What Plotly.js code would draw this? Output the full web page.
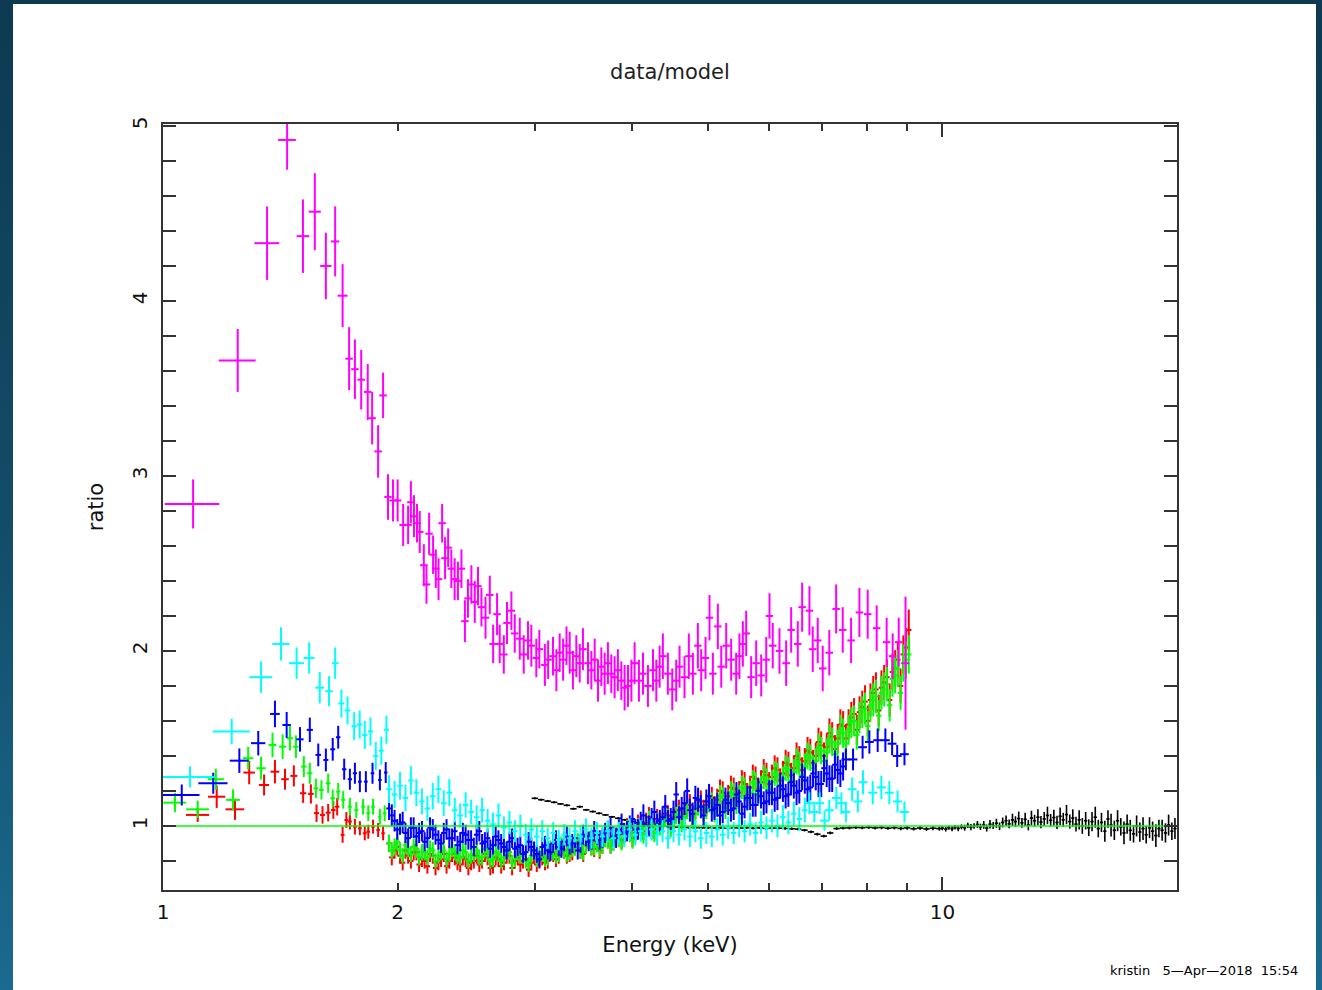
<!DOCTYPE html>
<html><head><meta charset="utf-8">
<script src="https://cdn.plot.ly/plotly-3.0.1.min.js"></script>
<style>
html,body{margin:0;padding:0;width:1322px;height:990px;overflow:hidden;background:linear-gradient(to bottom,#0d3a51 0%,#134d6a 55%,#1b6a91 100%);}
#panel{position:absolute;left:13px;top:4px;width:1303px;height:986px;background:#fff;}
#chart{width:1303px;height:986px;}
</style></head><body><div id="panel"><div id="chart"></div></div>
<script>
// ---------- axis ticks ----------
const xTickVals = [1, 2, 5, 10];
const xTickText = ['1', '2', '5', '10'];
const xMinorVals = [3, 4, 6, 7, 8, 9, 20];
const xMajorLong = [1, 10];

// ---------- model line ----------
const modelE = [1, 20];
const modelR = [1, 1];

// ---------- energy grids (keV) for dense red/green/blue/cyan bins ----------
const eDense = [1.950, 1.982, 2.014, 2.047, 2.080, 2.114, 2.149, 2.184, 2.219, 2.256,
  2.292, 2.330, 2.368, 2.406, 2.445, 2.485, 2.526, 2.567, 2.609, 2.651,
  2.694, 2.738, 2.783, 2.828, 2.874, 2.921, 2.969, 3.017, 3.066, 3.116,
  3.167, 3.219, 3.271, 3.324, 3.378, 3.433, 3.489, 3.546, 3.604, 3.663,
  3.722, 3.783, 3.845, 3.907, 3.971, 4.036, 4.101, 4.168, 4.236, 4.305,
  4.375, 4.446, 4.519, 4.592, 4.667, 4.743, 4.820, 4.899, 4.979, 5.060,
  5.142, 5.226, 5.311, 5.398, 5.486, 5.575, 5.666, 5.758, 5.852, 5.947,
  6.044, 6.143, 6.243, 6.345, 6.448, 6.553, 6.660, 6.769, 6.879, 6.991,
  7.105, 7.221, 7.339, 7.458, 7.580, 7.703, 7.829, 7.957, 8.086, 8.218,
  8.352, 8.488, 8.627, 8.767, 8.910, 9.055];
const eDenseB = [1.966, 1.998, 2.030, 2.063, 2.097, 2.131, 2.166, 2.201, 2.237, 2.274,
  2.311, 2.349, 2.387, 2.425, 2.465, 2.505, 2.546, 2.588, 2.630, 2.672,
  2.716, 2.760, 2.805, 2.851, 2.897, 2.945, 2.993, 3.041, 3.091, 3.141,
  3.193, 3.245, 3.297, 3.351, 3.405, 3.461, 3.517, 3.575, 3.633, 3.692,
  3.752, 3.814, 3.876, 3.939, 4.003, 4.068, 4.134, 4.202, 4.270, 4.340,
  4.410, 4.482, 4.555, 4.629, 4.705, 4.781, 4.859, 4.939, 5.019, 5.101,
  5.184, 5.268, 5.354, 5.442, 5.530, 5.620, 5.712, 5.805, 5.899, 5.995,
  6.093, 6.193, 6.294, 6.396, 6.500, 6.606, 6.714, 6.824, 6.935, 7.048,
  7.163, 7.280, 7.398, 7.519, 7.641, 7.766, 7.893, 8.021, 8.152, 8.285,
  8.420, 8.557, 8.697, 8.838, 8.982];

// ---------- red ----------
const redLoE = [1.108, 1.172, 1.237, 1.290, 1.348, 1.392, 1.434, 1.472, 1.513, 1.548, 1.574, 1.602, 1.629, 1.654, 1.673, 1.700, 1.719, 1.737, 1.763, 1.789, 1.815, 1.834, 1.860, 1.888, 1.916];
const redLoR = [1.063, 1.167, 1.095, 1.305, 1.234, 1.310, 1.267, 1.286, 1.187, 1.183, 1.073, 1.063, 1.076, 1.091, 1.110, 0.949, 1.034, 1.025, 0.996, 0.987, 0.958, 0.967, 0.996, 0.977, 0.958];
const redLoXerr = [0.038, 0.03, 0.034, 0.022, 0.02, 0.018, 0.016, 0.015, 0.014, 0.013, 0.012, 0.012, 0.012, 0.011, 0.011, 0.01, 0.01, 0.01, 0.01, 0.01, 0.01, 0.01, 0.01, 0.01, 0.01];
const redLoYerr = [0.04, 0.064, 0.06, 0.067, 0.06, 0.067, 0.06, 0.06, 0.055, 0.055, 0.05, 0.05, 0.05, 0.05, 0.05, 0.045, 0.045, 0.045, 0.045, 0.04, 0.04, 0.04, 0.04, 0.04, 0.04];
const redR = [0.90, 0.86, 0.83, 0.86, 0.80, 0.85, 0.81, 0.77, 0.83, 0.79,
  0.84, 0.80, 0.82, 0.78, 0.81, 0.79, 0.83, 0.80, 0.82, 0.77,
  0.81, 0.79, 0.83, 0.80, 0.78, 0.81, 0.79, 0.78, 0.82, 0.80,
  0.84, 0.83, 0.86, 0.84, 0.88, 0.86, 0.89, 0.88, 0.91, 0.89,
  0.93, 0.91, 0.95, 0.96, 0.98, 0.96, 1.00, 1.02, 0.99, 1.04,
  1.02, 1.06, 1.05, 1.09, 1.07, 1.12, 1.10, 1.14, 1.12, 1.16,
  1.15, 1.19, 1.17, 1.21, 1.19, 1.24, 1.22, 1.27, 1.25, 1.29,
  1.28, 1.32, 1.30, 1.35, 1.33, 1.38, 1.37, 1.42, 1.40, 1.46,
  1.45, 1.51, 1.50, 1.57, 1.58, 1.64, 1.65, 1.71, 1.72, 1.78,
  1.79, 1.85, 1.88, 1.95, 1.98, 2.12];
const redRB = [0.82, 0.88, 0.79, 0.83, 0.85, 0.78, 0.80, 0.84, 0.76, 0.81,
  0.77, 0.84, 0.79, 0.82, 0.76, 0.80, 0.78, 0.84, 0.76, 0.82,
  0.77, 0.83, 0.76, 0.82, 0.80, 0.75, 0.83, 0.80, 0.79, 0.85,
  0.81, 0.88, 0.83, 0.85, 0.90, 0.84, 0.92, 0.87, 0.86, 0.93,
  0.89, 0.94, 0.92, 0.99, 0.93, 1.01, 0.97, 1.05, 0.98, 1.02,
  1.07, 1.01, 1.09, 1.05, 1.12, 1.06, 1.15, 1.09, 1.17, 1.11,
  1.20, 1.13, 1.22, 1.16, 1.25, 1.18, 1.28, 1.21, 1.31, 1.24,
  1.33, 1.26, 1.36, 1.29, 1.40, 1.32, 1.43, 1.36, 1.48, 1.40,
  1.53, 1.44, 1.58, 1.50, 1.62, 1.55, 1.68, 1.60, 1.76, 1.66,
  1.82, 1.72, 1.90, 1.80, 2.02];

// ---------- green ----------
const greenLoE = [1.036, 1.108, 1.169, 1.230, 1.286, 1.336, 1.382, 1.424, 1.455, 1.481, 1.516, 1.543, 1.571, 1.597, 1.629, 1.651, 1.678, 1.703, 1.737, 1.770, 1.806, 1.834, 1.860, 1.898, 1.925];
const greenLoR = [1.133, 1.095, 1.267, 1.149, 1.387, 1.330, 1.463, 1.453, 1.501, 1.453, 1.339, 1.301, 1.215, 1.206, 1.244, 1.158, 1.196, 1.149, 1.110, 1.091, 1.110, 1.073, 1.110, 1.053, 1.073];
const greenLoXerr = [0.035, 0.037, 0.028, 0.025, 0.02, 0.018, 0.016, 0.015, 0.013, 0.012, 0.012, 0.012, 0.011, 0.011, 0.011, 0.011, 0.01, 0.01, 0.01, 0.01, 0.01, 0.01, 0.01, 0.01, 0.01];
const greenLoYerr = [0.055, 0.05, 0.06, 0.06, 0.065, 0.065, 0.07, 0.07, 0.07, 0.065, 0.06, 0.06, 0.055, 0.055, 0.055, 0.05, 0.05, 0.05, 0.05, 0.045, 0.045, 0.045, 0.045, 0.045, 0.045];
const greenR = [0.90, 0.88, 0.86, 0.89, 0.84, 0.87, 0.85, 0.82, 0.86, 0.83,
  0.86, 0.84, 0.85, 0.82, 0.85, 0.83, 0.86, 0.82, 0.85, 0.81,
  0.84, 0.82, 0.85, 0.81, 0.83, 0.80, 0.83, 0.81, 0.84, 0.82,
  0.85, 0.84, 0.86, 0.85, 0.88, 0.86, 0.89, 0.88, 0.90, 0.89,
  0.92, 0.91, 0.93, 0.94, 0.96, 0.95, 0.98, 1.00, 0.98, 1.02,
  1.01, 1.04, 1.02, 1.06, 1.05, 1.09, 1.07, 1.11, 1.10, 1.13,
  1.12, 1.16, 1.14, 1.18, 1.17, 1.21, 1.19, 1.24, 1.22, 1.26,
  1.25, 1.29, 1.27, 1.32, 1.31, 1.35, 1.34, 1.39, 1.37, 1.43,
  1.42, 1.48, 1.47, 1.53, 1.55, 1.60, 1.62, 1.67, 1.69, 1.74,
  1.76, 1.81, 1.84, 1.90, 1.93, 1.98];
const greenRB = [0.86, 0.91, 0.83, 0.87, 0.88, 0.82, 0.85, 0.87, 0.80, 0.85,
  0.81, 0.87, 0.83, 0.86, 0.80, 0.84, 0.82, 0.87, 0.80, 0.85,
  0.80, 0.86, 0.79, 0.85, 0.83, 0.78, 0.86, 0.83, 0.81, 0.87,
  0.83, 0.89, 0.84, 0.87, 0.91, 0.85, 0.92, 0.88, 0.87, 0.93,
  0.89, 0.94, 0.91, 0.98, 0.92, 0.99, 0.95, 1.03, 0.96, 1.00,
  1.05, 0.99, 1.07, 1.02, 1.10, 1.04, 1.12, 1.06, 1.14, 1.08,
  1.17, 1.10, 1.19, 1.13, 1.22, 1.15, 1.25, 1.18, 1.28, 1.21,
  1.30, 1.23, 1.33, 1.26, 1.37, 1.29, 1.40, 1.33, 1.45, 1.37,
  1.50, 1.41, 1.55, 1.47, 1.59, 1.52, 1.65, 1.57, 1.72, 1.63,
  1.78, 1.69, 1.86, 1.76, 1.95];

// ---------- blue ----------
const blueLoE = [1.057, 1.160, 1.253, 1.325, 1.392, 1.441, 1.499, 1.543, 1.582, 1.618, 1.651, 1.678, 1.708, 1.737, 1.763, 1.789, 1.821, 1.857, 1.898, 1.931];
const blueLoR = [1.177, 1.244, 1.373, 1.473, 1.640, 1.577, 1.495, 1.549, 1.406, 1.377, 1.438, 1.507, 1.324, 1.267, 1.301, 1.253, 1.253, 1.301, 1.263, 1.305];
const blueLoXerr = [0.057, 0.05, 0.035, 0.028, 0.02, 0.018, 0.016, 0.014, 0.013, 0.012, 0.012, 0.011, 0.011, 0.011, 0.011, 0.01, 0.01, 0.01, 0.01, 0.01];
const blueLoYerr = [0.06, 0.06, 0.07, 0.07, 0.076, 0.074, 0.07, 0.07, 0.065, 0.065, 0.065, 0.065, 0.06, 0.06, 0.06, 0.06, 0.06, 0.06, 0.06, 0.06];
const blueR = [1.10, 1.03, 1.01, 0.96, 0.99, 0.94, 0.97, 0.93, 0.98, 0.92,
  0.96, 0.93, 0.97, 0.91, 0.95, 0.92, 0.95, 0.90, 0.93, 0.89,
  0.92, 0.88, 0.91, 0.87, 0.89, 0.85, 0.88, 0.84, 0.88, 0.86,
  0.90, 0.88, 0.91, 0.89, 0.93, 0.90, 0.94, 0.92, 0.95, 0.93,
  0.97, 0.94, 0.98, 0.96, 1.00, 0.98, 1.02, 1.00, 1.04, 1.01,
  1.05, 1.03, 1.08, 1.05, 1.13, 1.09, 1.16, 1.11, 1.14, 1.09,
  1.12, 1.08, 1.13, 1.10, 1.14, 1.11, 1.16, 1.12, 1.17, 1.14,
  1.19, 1.16, 1.21, 1.18, 1.23, 1.20, 1.26, 1.22, 1.28, 1.24,
  1.30, 1.27, 1.32, 1.34];
const blueRB = [1.06, 0.98, 1.02, 0.93, 0.99, 0.96, 0.91, 0.99, 0.95, 0.90,
  0.98, 0.93, 0.89, 0.96, 0.92, 0.88, 0.97, 0.91, 0.87, 0.94,
  0.90, 0.86, 0.93, 0.88, 0.84, 0.91, 0.86, 0.81, 0.89, 0.85,
  0.92, 0.87, 0.94, 0.90, 0.86, 0.95, 0.91, 0.97, 0.92, 0.96,
  0.99, 0.93, 1.01, 0.97, 1.04, 0.98, 1.06, 1.00, 1.08, 1.03,
  1.11, 1.04, 1.18, 1.10, 1.20, 1.07, 1.15, 1.06, 1.17, 1.10,
  1.06, 1.15, 1.09, 1.18, 1.07, 1.16, 1.12, 1.20, 1.13, 1.19,
  1.15, 1.23, 1.17, 1.25, 1.19, 1.28, 1.21, 1.30, 1.24, 1.33,
  1.27, 1.35, 1.30];
const blueHiE = [7.52, 7.68, 7.90, 8.06, 8.26, 8.45, 8.62, 8.75, 8.94];
const blueHiR = [1.38, 1.38, 1.45, 1.48, 1.49, 1.49, 1.47, 1.40, 1.41];

// ---------- cyan ----------
const cyanLoE = [1.083, 1.225, 1.336, 1.417, 1.484, 1.540, 1.589, 1.633, 1.663, 1.694, 1.725, 1.759, 1.788, 1.815, 1.846, 1.875, 1.906, 1.935];
const cyanLoR = [1.28, 1.54, 1.85, 2.04, 1.93, 1.96, 1.79, 1.77, 1.93, 1.70, 1.66, 1.57, 1.58, 1.52, 1.54, 1.40, 1.43, 1.55];
const cyanLoXerr = [0.083, 0.067, 0.045, 0.036, 0.033, 0.025, 0.02, 0.018, 0.016, 0.015, 0.015, 0.014, 0.014, 0.014, 0.014, 0.014, 0.014, 0.014];
const cyanLoYerr = [0.06, 0.073, 0.09, 0.095, 0.09, 0.09, 0.09, 0.085, 0.09, 0.08, 0.08, 0.08, 0.08, 0.08, 0.08, 0.08, 0.08, 0.08];
const cyanR = [1.21, 1.18, 1.23, 1.16, 1.26, 1.19, 1.14, 1.10, 1.17, 1.21,
  1.13, 1.19, 1.09, 1.06, 1.12, 1.08, 1.05, 1.09, 1.03, 1.01,
  1.06, 0.99, 1.02, 0.97, 1.00, 0.95, 0.98, 0.94, 0.97, 0.93,
  0.96, 0.92, 0.95, 0.93, 0.97, 0.94, 0.98, 0.93, 0.96, 0.94,
  0.97, 0.93, 0.96, 0.94, 0.98, 0.95, 0.97, 0.94, 0.98, 0.95,
  0.97, 0.93, 0.97, 0.95, 0.98, 0.94, 0.97, 0.93, 0.96, 0.94,
  0.98, 0.95, 0.99, 0.96, 1.00, 0.97, 1.01, 0.96, 1.02, 0.99,
  1.03, 1.00, 1.05, 1.02, 1.07, 1.04, 1.09];
const cyanHiE = [6.75, 6.85, 6.96, 7.06, 7.16, 7.31, 7.42, 7.52, 7.66, 7.79, 7.91, 8.14, 8.35, 8.55, 8.76, 8.94];
const cyanHiR = [1.13, 1.08, 1.13, 1.03, 1.09, 1.16, 1.13, 1.08, 1.21, 1.14, 1.25, 1.19, 1.22, 1.19, 1.14, 1.08];

// ---------- magenta ----------
const magLoE = [1.093, 1.247, 1.360, 1.443, 1.512, 1.566, 1.618, 1.663, 1.700];
const magLoR = [2.84, 3.66, 4.33, 4.92, 4.37, 4.51, 4.20, 4.34, 4.03];
const magLoXerr = [0.088, 0.068, 0.050, 0.038, 0.028, 0.028, 0.027, 0.020, 0.025];
const magLoYerr = [0.14, 0.18, 0.21, 0.17, 0.21, 0.22, 0.19, 0.20, 0.18];
const magE = [1.733, 1.763, 1.796, 1.831, 1.855, 1.888, 1.916, 1.944, 1.973, 2.000,
  2.033, 2.063, 2.080, 2.099, 2.118, 2.135, 2.161, 2.178, 2.195, 2.221,
  2.239, 2.257, 2.281, 2.301, 2.322, 2.344, 2.367, 2.390, 2.415, 2.440,
  2.462, 2.487, 2.512, 2.536, 2.562, 2.593, 2.626, 2.652, 2.683, 2.704,
  2.737, 2.763, 2.799, 2.827, 2.869, 2.903, 2.940, 2.969, 3.013, 3.040,
  3.090, 3.120, 3.165, 3.197, 3.228, 3.261, 3.294, 3.325, 3.357, 3.391,
  3.425, 3.458, 3.510, 3.545, 3.580, 3.615, 3.651, 3.687, 3.723, 3.760,
  3.797, 3.834, 3.873, 3.911, 3.950, 3.990, 4.028, 4.080, 4.129, 4.190,
  4.253, 4.295, 4.337, 4.379, 4.444, 4.502, 4.555, 4.600, 4.668, 4.728,
  4.785, 4.856, 4.904, 4.967, 5.026, 5.076, 5.151, 5.203, 5.280, 5.358,
  5.438, 5.490, 5.546, 5.601, 5.684, 5.769, 5.855, 5.943, 6.000, 6.058,
  6.180, 6.303, 6.397, 6.523, 6.608, 6.752, 6.818, 6.919, 7.022, 7.160,
  7.306, 7.450, 7.636, 7.826, 8.020, 8.236, 8.482, 8.634, 8.790, 8.968];
const magR = [3.67, 3.61, 3.55, 3.48, 3.33, 3.14, 3.46, 2.88, 2.86, 2.86,
  2.72, 2.72, 2.85, 2.77, 2.73, 2.68, 2.49, 2.38, 2.67, 2.55,
  2.47, 2.41, 2.73, 2.53, 2.59, 2.47, 2.41, 2.40, 2.47, 2.17,
  2.30, 2.38, 2.28, 2.37, 2.25, 2.19, 2.32, 2.04, 2.21, 2.04,
  1.98, 2.16, 2.23, 2.10, 2.07, 1.98, 2.06, 2.03, 1.96, 2.01,
  1.92, 1.95, 1.97, 1.89, 1.99, 1.95, 2.03, 1.99, 1.89, 1.97,
  1.93, 2.01, 1.93, 1.89, 1.95, 1.83, 1.91, 1.87, 1.93, 1.87,
  1.85, 1.89, 1.83, 1.79, 1.80, 1.83, 1.93, 1.83, 1.87, 1.80,
  1.89, 1.83, 1.91, 1.97, 1.87, 1.78, 1.83, 1.91, 1.85, 1.97,
  1.87, 2.03, 1.89, 1.96, 2.19, 1.87, 2.14, 1.91, 2.03, 1.95,
  1.87, 1.97, 2.04, 2.10, 1.85, 1.93, 1.86, 1.95, 2.20, 2.03,
  2.00, 1.93, 2.12, 2.04, 2.25, 2.23, 2.01, 2.06, 1.90, 1.99,
  2.24, 2.12, 2.06, 2.22, 2.21, 2.13, 2.05, 1.97, 2.05, 1.93];
const magYerr = [0.18, 0.17, 0.17, 0.16, 0.15, 0.15, 0.13, 0.13, 0.12, 0.12,
  0.12, 0.11, 0.12, 0.12, 0.11, 0.12, 0.12, 0.11, 0.12, 0.11,
  0.11, 0.12, 0.11, 0.12, 0.11, 0.11, 0.12, 0.11, 0.11, 0.12,
  0.11, 0.11, 0.12, 0.11, 0.11, 0.12, 0.11, 0.11, 0.12, 0.11,
  0.11, 0.12, 0.11, 0.11, 0.12, 0.11, 0.11, 0.12, 0.11, 0.11,
  0.12, 0.11, 0.11, 0.12, 0.11, 0.12, 0.11, 0.12, 0.11, 0.12,
  0.11, 0.12, 0.12, 0.11, 0.12, 0.12, 0.11, 0.12, 0.12, 0.11,
  0.12, 0.12, 0.11, 0.13, 0.12, 0.12, 0.12, 0.12, 0.12, 0.12,
  0.12, 0.12, 0.12, 0.13, 0.12, 0.12, 0.12, 0.12, 0.12, 0.13,
  0.12, 0.13, 0.12, 0.12, 0.13, 0.12, 0.13, 0.12, 0.13, 0.12,
  0.12, 0.13, 0.13, 0.13, 0.12, 0.13, 0.12, 0.13, 0.13, 0.13,
  0.13, 0.13, 0.13, 0.13, 0.14, 0.14, 0.13, 0.13, 0.13, 0.13,
  0.14, 0.13, 0.13, 0.14, 0.14, 0.13, 0.14, 0.13, 0.14, 0.38];

// ---------- black ----------
const blackLoE = [3.000, 3.057, 3.116, 3.176, 3.236, 3.298, 3.362, 3.426, 3.492, 3.559,
  3.627, 3.696, 3.767, 3.839, 3.913, 3.988, 4.064, 4.142, 4.221, 4.302,
  4.384, 4.468, 4.554, 4.641, 4.730, 4.820, 4.913, 5.007, 5.103, 5.200,
  5.300, 5.401, 5.505, 5.610, 5.718, 5.827, 5.939, 6.052, 6.168, 6.286,
  6.407, 6.529, 6.654, 6.782, 6.912, 7.044, 7.179, 7.316, 7.456, 7.599,
  7.745, 7.893, 8.044, 8.198, 8.355, 8.515, 8.678, 8.844, 9.013, 9.186,
  9.362, 9.541, 9.724, 9.910];
const blackLoR = [1.158, 1.150, 1.142, 1.135, 1.126, 1.118, 1.098, 1.110, 1.092, 1.082,
  1.072, 1.063, 1.052, 1.044, 1.035, 1.026, 1.018, 1.012, 1.006, 1.002,
  0.999, 0.996, 0.994, 0.992, 0.991, 0.990, 0.989, 0.990, 0.988, 0.989,
  0.987, 0.989, 0.988, 0.990, 0.987, 0.989, 0.986, 0.988, 0.987, 0.986,
  0.984, 0.982, 0.976, 0.966, 0.953, 0.942, 0.960, 0.985, 0.988, 0.989,
  0.991, 0.990, 0.992, 0.989, 0.991, 0.987, 0.990, 0.986, 0.989, 0.984,
  0.988, 0.983, 0.987, 0.985];
const blackLoErr = [0.005, 0.005, 0.005, 0.005, 0.005, 0.005, 0.006, 0.006, 0.005, 0.005,
  0.005, 0.005, 0.005, 0.005, 0.005, 0.005, 0.005, 0.005, 0.005, 0.005,
  0.005, 0.005, 0.005, 0.005, 0.005, 0.006, 0.005, 0.006, 0.005, 0.006,
  0.006, 0.006, 0.006, 0.006, 0.006, 0.006, 0.006, 0.007, 0.006, 0.007,
  0.007, 0.007, 0.007, 0.008, 0.008, 0.008, 0.008, 0.008, 0.008, 0.009,
  0.008, 0.009, 0.009, 0.009, 0.010, 0.009, 0.010, 0.010, 0.011, 0.010,
  0.011, 0.011, 0.012, 0.012];
const blackHiE = [10.00, 10.10, 10.19, 10.29, 10.38, 10.48, 10.58, 10.68, 10.78, 10.88,
  10.98, 11.09, 11.19, 11.30, 11.40, 11.51, 11.62, 11.73, 11.84, 11.95,
  12.07, 12.18, 12.30, 12.41, 12.53, 12.65, 12.77, 12.89, 13.01, 13.13,
  13.26, 13.38, 13.51, 13.64, 13.77, 13.90, 14.03, 14.16, 14.29, 14.43,
  14.57, 14.70, 14.84, 14.98, 15.12, 15.27, 15.41, 15.56, 15.71, 15.85,
  16.00, 16.16, 16.31, 16.46, 16.62, 16.78, 16.94, 17.10, 17.26, 17.42,
  17.59, 17.75, 17.92, 18.09, 18.26, 18.44, 18.61, 18.79, 18.96, 19.14,
  19.33, 19.51, 19.70, 19.88];
const blackHiR = [0.987, 0.982, 0.990, 0.984, 0.992, 0.986, 0.995, 0.990, 1.003, 0.993,
  1.000, 1.008, 0.995, 1.006, 0.988, 1.010, 1.002, 1.015, 0.998, 1.020,
  1.030, 1.012, 1.035, 1.025, 1.042, 1.018, 1.038, 1.005, 1.045, 1.030,
  1.050, 1.022, 1.040, 1.060, 1.032, 1.048, 1.020, 1.055, 1.035, 1.065,
  1.025, 1.045, 1.010, 1.035, 1.000, 1.030, 0.990, 1.025, 1.050, 0.985,
  1.020, 0.970, 1.040, 1.005, 0.975, 1.030, 0.995, 0.960, 1.010, 0.975,
  0.955, 1.000, 0.965, 0.985, 0.950, 0.990, 0.970, 0.945, 0.985, 0.975,
  0.960, 1.005, 0.970, 0.985];
const blackHiErr = [0.012, 0.014, 0.012, 0.015, 0.013, 0.016, 0.014, 0.017, 0.015, 0.018,
  0.016, 0.020, 0.018, 0.022, 0.020, 0.024, 0.020, 0.026, 0.022, 0.028,
  0.030, 0.025, 0.035, 0.030, 0.040, 0.028, 0.038, 0.030, 0.042, 0.034,
  0.045, 0.035, 0.040, 0.050, 0.036, 0.045, 0.038, 0.050, 0.040, 0.055,
  0.040, 0.050, 0.042, 0.055, 0.045, 0.050, 0.048, 0.055, 0.060, 0.050,
  0.055, 0.060, 0.050, 0.065, 0.055, 0.060, 0.050, 0.065, 0.055, 0.060,
  0.050, 0.060, 0.055, 0.065, 0.050, 0.060, 0.055, 0.065, 0.050, 0.060,
  0.055, 0.060, 0.050, 0.060];

// ---------- helpers ----------
function errSpec(e, color, th) {
  if (Array.isArray(e)) return {type: 'data', array: e, symmetric: true, color: color, thickness: th, width: 0, visible: true};
  return {type: 'percent', value: e, color: color, thickness: th, width: 0, visible: true};
}
function crosses(x, y, ex, ey, color, th) {
  return {type: 'scatter', mode: 'markers', x: x, y: y,
    marker: {size: 2, color: color},
    error_x: errSpec(ex, color, th), error_y: errSpec(ey, color, th),
    hoverinfo: 'skip', showlegend: false};
}

const RED = '#ff0000', GREEN = '#00ff00', BLUE = '#0000ff', CYAN = '#00ffff', MAG = '#ff00ff', BLACK = '#000000';

const traces = [
  crosses(blackLoE, blackLoR, 0.95, blackLoErr, BLACK, 1.6),
  crosses(blackHiE, blackHiR, 0.48, blackHiErr, BLACK, 1.6),
  crosses(redLoE, redLoR, redLoXerr, redLoYerr, RED, 2),
  crosses(eDense, redR, 0.8, 5.5, RED, 2),
  crosses(eDenseB, redRB, 0.8, 5.5, RED, 2),
  crosses(greenLoE, greenLoR, greenLoXerr, greenLoYerr, GREEN, 2),
  crosses(eDense, greenR, 0.8, 5.5, GREEN, 2),
  crosses(eDenseB, greenRB, 0.8, 5.5, GREEN, 2),
  crosses(blueLoE, blueLoR, blueLoXerr, blueLoYerr, BLUE, 2),
  crosses(eDense.slice(0, blueR.length), blueR, 0.8, 6, BLUE, 2),
  crosses(eDenseB.slice(0, blueRB.length), blueRB, 0.8, 6, BLUE, 2),
  crosses(blueHiE, blueHiR, 1.3, 4.5, BLUE, 2),
  crosses(cyanLoE, cyanLoR, cyanLoXerr, cyanLoYerr, CYAN, 2),
  crosses(eDense.slice(0, cyanR.length), cyanR, 0.8, 6.5, CYAN, 2),
  crosses(cyanHiE, cyanHiR, 1.3, 5.5, CYAN, 2),
  crosses(magLoE, magLoR, magLoXerr, magLoYerr, MAG, 2),
  crosses(magE, magR, 1.1, magYerr, MAG, 2),
  {type: 'scatter', mode: 'lines', x: modelE, y: modelR, xaxis: 'x2', yaxis: 'y',
   line: {color: GREEN, width: 1.6}, hoverinfo: 'skip', showlegend: false}
];

const AX = '#333333';
const xr = [0, Math.log10(20)];
const layout = {
  width: 1303, height: 986,
  paper_bgcolor: '#ffffff', plot_bgcolor: '#ffffff',
  margin: {l: 150, r: 139, t: 120, b: 100, pad: 0},
  showlegend: false,
  font: {family: 'DejaVu Sans', color: '#111', size: 20},
  title: {text: 'data/model', font: {family: 'DejaVu Sans', size: 21, color: '#222'},
          x: 0.5, xref: 'paper', xanchor: 'center', y: 1 - 68 / 986, yref: 'container', yanchor: 'middle'},
  xaxis: {type: 'log', range: xr, tickmode: 'array', tickvals: xTickVals, ticktext: xTickText,
    ticks: 'inside', ticklen: 7, tickwidth: 2, tickcolor: AX,
    showline: true, linecolor: AX, linewidth: 2, mirror: 'allticks',
    showgrid: false, zeroline: false, tickfont: {size: 20, color: '#111'}, ticklabelstandoff: 3,
    minor: {tickmode: 'array', tickvals: xMinorVals, ticks: 'inside', ticklen: 7, tickwidth: 2, tickcolor: AX, showgrid: false},
    title: {text: 'Energy (keV)', font: {size: 21, color: '#111'}, standoff: 14}},
  xaxis2: {type: 'log', range: xr, overlaying: 'x', anchor: 'y', side: 'bottom',
    tickmode: 'array', tickvals: xMajorLong, ticks: 'inside', ticklen: 13, tickwidth: 2, tickcolor: AX,
    showticklabels: false, showline: false, mirror: 'allticks', showgrid: false, zeroline: false},
  yaxis: {range: [0.634, 5.011], tickmode: 'linear', tick0: 0, dtick: 1,
    ticks: 'inside', ticklen: 13, tickwidth: 2, tickcolor: AX, tickangle: -90,
    showline: true, linecolor: AX, linewidth: 2, mirror: 'allticks',
    showgrid: false, zeroline: false, tickfont: {size: 20, color: '#111'}, ticklabelstandoff: 6,
    minor: {tick0: 0, dtick: 0.2, ticks: 'inside', ticklen: 7, tickwidth: 2, tickcolor: AX, showgrid: false},
    title: {text: 'ratio', font: {size: 21, color: '#111'}, standoff: 19}},
  annotations: [{text: 'kristin\u00a0\u00a0\u00a05\u2014Apr\u20142018\u00a0\u00a015:54', showarrow: false,
    xref: 'paper', x: (1300 - 163) / 1014, xanchor: 'right',
    yref: 'paper', y: (890 - 971) / 766, yanchor: 'middle',
    font: {family: 'DejaVu Sans', size: 13, color: '#000'}}]
};

Plotly.newPlot('chart', traces, layout, {staticPlot: true, displayModeBar: false});
</script>
</body></html>
